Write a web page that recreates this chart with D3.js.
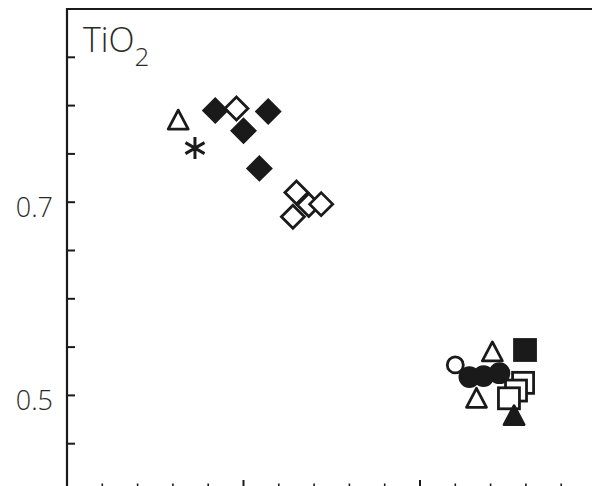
<!DOCTYPE html>
<html><head><meta charset="utf-8">
<script src="https://cdn.jsdelivr.net/npm/d3@7/dist/d3.min.js"></script>
<style>body{margin:0;background:#fff;overflow:hidden}</style></head>
<body><svg id="c" width="592" height="486"></svg>
<script>
// ---- data ----
const yTicks = [0.45, 0.5, 0.55, 0.6, 0.65, 0.7, 0.75, 0.8, 0.85];
const yLabels = [0.5, 0.7];
const xTicks = [42, 44, 46, 48, 50, 52, 54, 56, 58, 60, 62, 64, 66, 68, 70];
const xMajor = [50, 60, 70];
const panelLabel = "TiO";
const panelSub = "2";

const openTriangleX = [46.3, 63.2, 64.1];
const openTriangleY = [0.785, 0.497, 0.545];
const asteriskX = [47.25];
const asteriskY = [0.756];
const openDiamondX = [49.6, 53.0, 52.8, 53.7, 54.4];
const openDiamondY = [0.797, 0.710, 0.685, 0.697, 0.698];
const filledDiamondX = [48.4, 51.4, 50.0, 50.9];
const filledDiamondY = [0.795, 0.794, 0.774, 0.735];
const openCircleX = [62.0];
const openCircleY = [0.5315];
const filledCircleX = [62.8, 63.6, 64.5];
const filledCircleY = [0.519, 0.520, 0.523];
const openSquareX = [65.84, 65.44, 65.04];
const openSquareY = [0.513, 0.505, 0.497];
const filledSquareX = [65.95];
const filledSquareY = [0.547];
const filledTriangleX = [65.33];
const filledTriangleY = [0.479];

// ---- drawing ----
const svg = d3.select("#c");
const mLeft = 67, mTop = 9, mBottom = 490;
const x = d3.scaleLinear().domain([40, 70]).range([mLeft, 596.5]);
const y = d3.scaleLinear().domain([0.4, 0.9]).range([492, mTop]);
const ink = "#1a1a1a";

// frame
svg.append("path").attr("d", `M${mLeft},${mBottom + 10}V${mTop}H${600}`)
  .attr("fill", "none").attr("stroke", ink).attr("stroke-width", 2.2);
// bottom axis (off-screen line), inward ticks
const gx = svg.append("g").attr("transform", `translate(0,${y(0.4)})`);
gx.selectAll("line").data(xTicks).join("line")
  .attr("x1", d => x(d)).attr("x2", d => x(d))
  .attr("y1", 0).attr("y2", d => xMajor.includes(d) ? -12 : -8.5)
  .attr("stroke", ink).attr("stroke-width", d => xMajor.includes(d) ? 2 : 1.6);
// left ticks, inward
svg.append("g").selectAll("line").data(yTicks).join("line")
  .attr("x1", mLeft).attr("x2", mLeft + 8)
  .attr("y1", d => y(d)).attr("y2", d => y(d))
  .attr("stroke", ink).attr("stroke-width", 2);
svg.append("g").selectAll("text").data(yLabels).join("text")
  .attr("x", 53).attr("y", d => y(d) + 15)
  .attr("text-anchor", "end")
  .attr("font-family", "'Open Sans', 'Noto Sans', sans-serif")
  .attr("font-weight", 300).attr("font-size", 27).attr("fill", "#2a2a2a")
  .text(d => d3.format(".1f")(d));

// panel label
const lbl = svg.append("text").attr("x", 83).attr("y", 52)
  .attr("font-family", "'Open Sans', 'Noto Sans', sans-serif")
  .attr("font-weight", 300).attr("font-size", 34).attr("fill", "#2a2a2a");
lbl.append("tspan").text(panelLabel);
lbl.append("tspan").attr("font-size", 26).attr("dy", 14).text(panelSub);

const sw = 2.8;
function pts(xs, ys) { return xs.map((v, i) => [x(v), y(ys[i])]); }
const g = svg.append("g");

function diamond(data, filled) {
  g.selectAll(null).data(data).join("path")
    .attr("d", d => { const r = 11.5; return `M${d[0]},${d[1]-r}L${d[0]+r},${d[1]}L${d[0]},${d[1]+r}L${d[0]-r},${d[1]}Z`; })
    .attr("fill", filled ? ink : "#fff").attr("stroke", ink).attr("stroke-width", sw).attr("stroke-linejoin", "miter");
}
function triangle(data, filled) {
  g.selectAll(null).data(data).join("path")
    .attr("d", d => { const w = 10, h = 10; return `M${d[0]},${d[1]-h}L${d[0]+w},${d[1]+h*0.9}L${d[0]-w},${d[1]+h*0.9}Z`; })
    .attr("fill", filled ? ink : "#fff").attr("stroke", ink).attr("stroke-width", sw).attr("stroke-linejoin", "round");
}
function square(data, filled) {
  g.selectAll(null).data(data).join("rect")
    .attr("x", d => d[0] - 10.5).attr("y", d => d[1] - 10.5).attr("width", 21).attr("height", 21)
    .attr("fill", filled ? ink : "#fff").attr("stroke", ink).attr("stroke-width", sw);
}
function circle(data, filled) {
  g.selectAll(null).data(data).join("circle")
    .attr("cx", d => d[0]).attr("cy", d => d[1]).attr("r", filled ? 9.5 : 8)
    .attr("fill", filled ? ink : "#fff").attr("stroke", ink).attr("stroke-width", sw);
}
function asterisk(data) {
  g.selectAll(null).data(data).join("path")
    .attr("d", d => { const r = 11; const a = r * Math.cos(Math.PI / 6), b = r * 0.5;
      return `M${d[0]},${d[1]-r}V${d[1]+r}M${d[0]-a},${d[1]-b}L${d[0]+a},${d[1]+b}M${d[0]-a},${d[1]+b}L${d[0]+a},${d[1]-b}`; })
    .attr("fill", "none").attr("stroke", ink).attr("stroke-width", 3);
}

triangle(pts(openTriangleX.slice(0,1), openTriangleY.slice(0,1)), false);
asterisk(pts(asteriskX, asteriskY));
diamond(pts(openDiamondX, openDiamondY), false);
diamond(pts(filledDiamondX, filledDiamondY), true);
circle(pts(openCircleX, openCircleY), false);
triangle(pts(openTriangleX.slice(1), openTriangleY.slice(1)), false);
circle(pts(filledCircleX, filledCircleY), true);
square(pts(openSquareX, openSquareY), false);
square(pts(filledSquareX, filledSquareY), true);
triangle(pts(filledTriangleX, filledTriangleY), true);
</script></body></html>
